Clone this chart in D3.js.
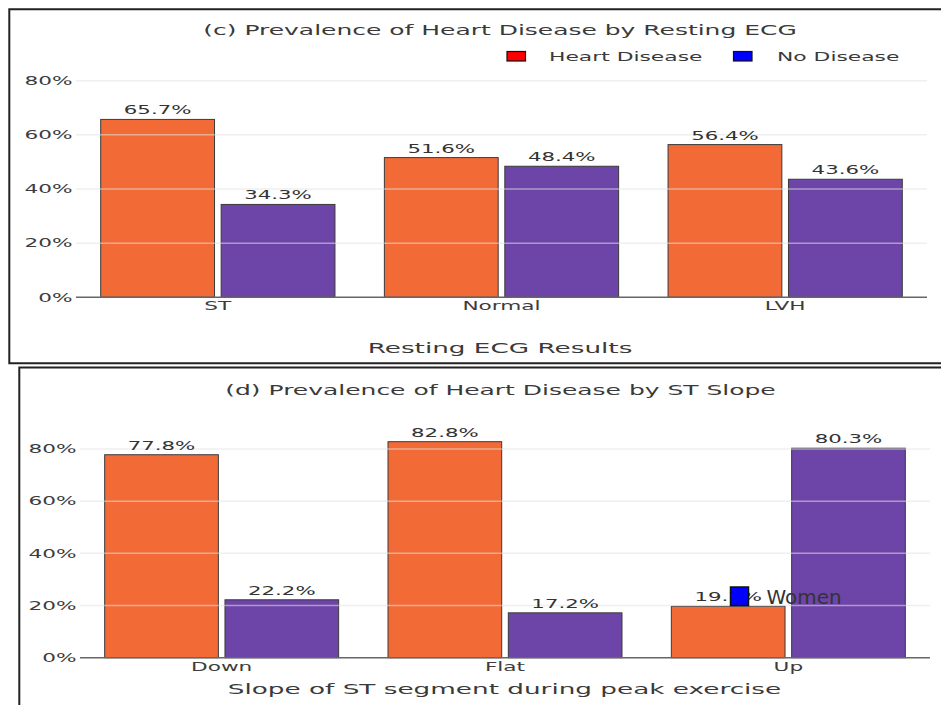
<!DOCTYPE html>
<html>
<head>
<meta charset="utf-8">
<script src="https://cdn.jsdelivr.net/npm/d3@7"></script>
<style>
  html, body { margin: 0; padding: 0; background: #fff; }
  svg { display: block; }
  text { font-family: "DejaVu Sans", Verdana, sans-serif; }
</style>
</head>
<body>
<svg id="chart" width="941" height="705"></svg>
<script>
// ---- data ----
const seriesNames = ["Heart Disease", "No Disease"];
const ecgCategories = ["ST", "Normal", "LVH"];
const ecgHeartDisease = [65.7, 51.6, 56.4];
const ecgNoDisease = [34.3, 48.4, 43.6];
const slopeCategories = ["Down", "Flat", "Up"];
const slopeHeartDisease = [77.8, 82.8, 19.7];
const slopeNoDisease = [22.2, 17.2, 80.3];
const yTicks = [0, 20, 40, 60, 80];

// ---- style ----
const barColors = ["#f26a36", "#6d45a9"];
const legendColors = ["#ff0000", "#0000ff"];
const SX = 1.85;          // horizontal stretch of the typography
const textColor = "#333";

const svg = d3.select("#chart");

// stretched text helper
function label(g, x, y, str, opts = {}) {
  return g.append("text")
    .attr("transform", `translate(${x},${y}) scale(${opts.sx || SX},1)`)
    .attr("text-anchor", opts.anchor || "middle")
    .attr("font-size", opts.size || 11.7)
    .attr("fill", opts.color || textColor)
    .attr("dy", opts.dy || null)
    .text(str);
}

function panel(cfg) {
  const g = svg.append("g");

  // frame (left, top, bottom edges)
  const f = cfg.frame;
  const framePath = d3.path();
  framePath.moveTo(941, f.top);
  framePath.lineTo(f.left, f.top);
  framePath.lineTo(f.left, f.bottom);
  framePath.lineTo(941, f.bottom);
  g.append("path").attr("d", framePath.toString())
    .attr("fill", "none").attr("stroke", "#222").attr("stroke-width", 2);

  const x0 = d3.scaleBand().domain(cfg.categories)
    .range([cfg.x0, cfg.x1]).paddingInner(0.1742).paddingOuter(0.0871);
  const x1 = d3.scaleBand().domain(seriesNames)
    .range([0, x0.bandwidth()]).paddingInner(0.055);
  const y = d3.scaleLinear().domain([0, 80]).range([cfg.yBase, cfg.yTop]);

  const rows = cfg.categories.map((c, i) => ({
    cat: c,
    vals: [cfg.hd[i], cfg.nd[i]]
  }));

  // bars
  const grp = g.selectAll(".grp").data(rows).join("g")
    .attr("transform", d => `translate(${x0(d.cat)},0)`);
  grp.selectAll("rect").data(d => d.vals.map((v, k) => ({ v, k })))
    .join("rect")
    .attr("x", d => x1(seriesNames[d.k]))
    .attr("width", x1.bandwidth())
    .attr("y", d => y(d.v))
    .attr("height", d => y(0) - y(d.v))
    .attr("fill", d => barColors[d.k])
    .attr("stroke", "#3a3a3a").attr("stroke-width", 1);

  // faint grid lines across the plot
  const grid = g.append("g");
  yTicks.filter(t => t > 0).forEach(t => {
    grid.append("line")
      .attr("x1", cfg.x0).attr("x2", cfg.x1)
      .attr("y1", y(t)).attr("y2", y(t))
      .attr("stroke", "#e2e2e2").attr("stroke-opacity", 0.55)
      .attr("stroke-width", 1.5);
  });
  // baseline
  g.append("line")
    .attr("x1", cfg.x0).attr("x2", cfg.x1)
    .attr("y1", y(0)).attr("y2", y(0))
    .attr("stroke", "#666").attr("stroke-width", 1.5);

  // y tick labels
  yTicks.forEach(t => {
    label(g, cfg.x0 - 3.5, y(t), t + "%", { anchor: "end", dy: "0.36em", color: "#3c3c3c" });
  });

  // value labels
  rows.forEach(r => {
    r.vals.forEach((v, k) => {
      label(g, x0(r.cat) + x1(seriesNames[k]) + x1.bandwidth() / 2, y(v) - 5,
        v.toFixed(1) + "%", { size: 11.5 });
    });
  });

  // category labels
  cfg.categories.forEach(c => {
    label(g, x0(c) + x0.bandwidth() / 2, y(0) + 13, c, { size: 11.7, color: "#3c3c3c" });
  });

  // titles
  label(g, cfg.titleX, cfg.titleY, cfg.title, { size: 13.5, color: "#3a3a3a" });
  label(g, cfg.axisTitleX, cfg.axisTitleY, cfg.axisTitle, { size: 14.2, color: "#3a3a3a" });

  return { g, x0, x1, y };
}

// (c) Resting ECG
const ecgPanel = panel({
  frame: { left: 9.3, top: 9.2, bottom: 363.2 },
  categories: ecgCategories, hd: ecgHeartDisease, nd: ecgNoDisease,
  x0: 76, x1: 927, yBase: 297.3, yTop: 80.7,
  title: "(c) Prevalence of Heart Disease by Resting ECG", titleX: 500, titleY: 35,
  axisTitle: "Resting ECG Results", axisTitleX: 500, axisTitleY: 353
});

// legend
const legend = ecgPanel.g.append("g");
const legendPos = [{ box: 507, text: 549 }, { box: 733.5, text: 777 }];
seriesNames.forEach((s, i) => {
  legend.append("rect")
    .attr("x", legendPos[i].box).attr("y", 51.5)
    .attr("width", 18.5).attr("height", 9.5)
    .attr("fill", legendColors[i]).attr("stroke", "#111").attr("stroke-width", 1.2);
  label(legend, legendPos[i].text, 61, s, { anchor: "start", size: 11.8, color: "#3a3a3a" });
});

// (d) ST slope
const slopePanel = panel({
  frame: { left: 19.3, top: 367.5, bottom: 720 },
  categories: slopeCategories, hd: slopeHeartDisease, nd: slopeNoDisease,
  x0: 80, x1: 930, yBase: 657.7, yTop: 449.0,
  title: "(d) Prevalence of Heart Disease by ST Slope", titleX: 500.5, titleY: 395,
  axisTitle: "Slope of ST segment during peak exercise", axisTitleX: 504.5, axisTitleY: 693.5
});

// stray "Women" key sitting over the Up group
slopePanel.g.append("rect")
  .attr("x", 730.5).attr("y", 587).attr("width", 18).attr("height", 18.5)
  .attr("fill", "#0000ff").attr("stroke", "#111").attr("stroke-width", 1.5);
label(slopePanel.g, 766.5, 604, "Women", { anchor: "start", size: 19, sx: 1.05, color: "#333" });
</script>
</body>
</html>
